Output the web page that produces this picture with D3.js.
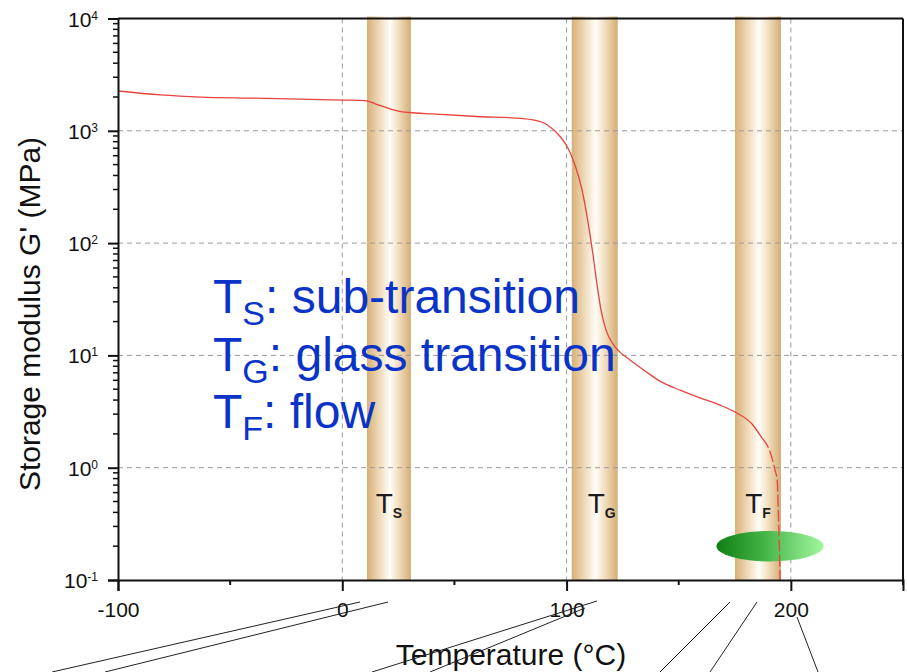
<!DOCTYPE html>
<html>
<head>
<meta charset="utf-8">
<script src="https://d3js.org/d3.v7.min.js"></script>
<style>
  body { margin: 0; background: #fff; }
  svg { display: block; font-family: "Liberation Sans", Arial, sans-serif; }
</style>
</head>
<body>
<svg id="chart" width="907" height="672"></svg>
<script>
// storage modulus curve (temperature in °C, G' in MPa)
const temps = [-100, -81, -63, -41, -19, 0, 10, 15, 20, 25, 30, 40, 60, 80, 85, 91.5, 97.3, 100.6,
  103.75, 106.9, 109.55, 111.8, 113.6, 115.35, 117.6, 120.7, 123.8, 128.3, 135, 141.6, 150.6, 159.5,
  168.4, 175.1, 182.7, 187.1, 191.6, 192.9, 193.9, 194.4, 195.2];
const modulus = [2262, 2085, 1995, 1955, 1916, 1878, 1860, 1730, 1600, 1500, 1455, 1413, 1341, 1288, 1251, 1128, 881, 703,
  496, 297, 154, 78.4, 42.4, 25.4, 16.8, 12.6, 10.7, 9.1, 7.26, 5.9, 4.9, 4.18,
  3.61, 3.13, 2.45, 1.84, 1.22, 0.955, 0.776, 0.42, 0.1];
const dashedFrom = 187.1;

// transition bands
const bandNames = ["S", "G", "F"];
const bandFrom = [11.0, 102.3, 175.1];
const bandTo = [30.6, 122.8, 195.6];

// legend lines
const legendSubs = ["S", "G", "F"];
const legendTexts = [": sub-transition", ": glass transition", ": flow"];

// axis ticks
const xMajor = [-100, 0, 100, 200];
const xMinor = [-50, 50, 150, 250];
const yMajor = [1e-1, 1e0, 1e1, 1e2, 1e3, 1e4];
const yExp = ["-1", "0", "1", "2", "3", "4"];
const xGrid = [0, 100, 200];
const yGrid = [1e0, 1e1, 1e2, 1e3];

// flow marker (ellipse)
const flowMarker = { t: 190.7, g: 0.2 };

// callout lines below the axis (pixel coords)
const callouts = [
  [360, 602, 52, 672], [388, 602, 105, 672],
  [597, 601, 372, 672], [585, 608, 430, 672],
  [730, 602, 660, 672], [757, 602, 710, 672],
  [797, 617, 818, 672]
];

const svg = d3.select("#chart");
const mLeft = 118, mRight = 903, mTop = 18.5, mBottom = 580;

const x = d3.scaleLinear().domain([-100, 250]).range([mLeft, mRight]);
const y = d3.scaleLog().domain([0.1, 1e4]).range([mBottom, mTop]);

const defs = svg.append("defs");
const bg = defs.append("linearGradient").attr("id", "band").attr("x1", 0).attr("x2", 1).attr("y1", 0).attr("y2", 0);
[["0%", "#d8b079"], ["18%", "#e7cba0"], ["52%", "#fffdf7"], ["70%", "#f3e2c6"], ["100%", "#d5ad74"]]
  .forEach(s => bg.append("stop").attr("offset", s[0]).attr("stop-color", s[1]));
const gg = defs.append("linearGradient").attr("id", "green").attr("x1", 0).attr("x2", 1).attr("y1", 0).attr("y2", 0);
[["0%", "#0f7f14"], ["45%", "#45b548"], ["100%", "#a2f79e"]]
  .forEach(s => gg.append("stop").attr("offset", s[0]).attr("stop-color", s[1]));

// bands
svg.selectAll("rect.band")
  .data(bandNames)
  .enter()
  .append("rect")
  .attr("class", "band")
  .attr("x", (d, i) => x(bandFrom[i]))
  .attr("y", mTop - 2)
  .attr("width", (d, i) => x(bandTo[i]) - x(bandFrom[i]))
  .attr("height", mBottom - mTop + 2)
  .attr("fill", "url(#band)");

// grid
svg.selectAll("line.xgrid")
  .data(xGrid)
  .enter()
  .append("line")
  .attr("x1", d => x(d)).attr("x2", d => x(d))
  .attr("y1", mTop).attr("y2", mBottom)
  .attr("stroke", "#9a9a9a").attr("stroke-width", 1).attr("stroke-dasharray", "5,4");

svg.selectAll("line.ygrid")
  .data(yGrid)
  .enter()
  .append("line")
  .attr("x1", mLeft).attr("x2", mRight)
  .attr("y1", d => y(d)).attr("y2", d => y(d))
  .attr("stroke", "#9a9a9a").attr("stroke-width", 1).attr("stroke-dasharray", "5,4");

// band labels
const bl = svg.selectAll("text.blabel")
  .data(bandNames)
  .enter()
  .append("text")
  .attr("x", (d, i) => (x(bandFrom[i]) + x(bandTo[i])) / 2 + (d === "G" ? 7 : 0))
  .attr("y", 513)
  .attr("text-anchor", "middle")
  .attr("fill", "#1c1c1c");
bl.append("tspan").text("T").style("font-size", "28px");
bl.append("tspan").text(d => d).attr("dy", 5).style("font-size", "14px").style("font-weight", "bold");

// green ellipse
svg.append("ellipse")
  .attr("cx", x(flowMarker.t))
  .attr("cy", y(flowMarker.g))
  .attr("rx", 53.5)
  .attr("ry", 15.3)
  .attr("fill", "url(#green)");

// curve
const pts = temps.map((t, i) => [t, modulus[i]]);
const line = d3.line().x(d => x(d[0])).y(d => y(d[1])).curve(d3.curveMonotoneX);
svg.append("path")
  .datum(pts.filter(d => d[0] <= dashedFrom))
  .attr("d", line)
  .attr("fill", "none").attr("stroke", "#e8433d").attr("stroke-width", 1.3);
svg.append("path")
  .datum(pts.filter(d => d[0] >= dashedFrom))
  .attr("d", line)
  .attr("fill", "none").attr("stroke", "#e8433d").attr("stroke-width", 1.3)
  .attr("stroke-dasharray", "12,3");

// frame
svg.append("line").attr("x1", mLeft).attr("x2", mRight).attr("y1", mTop).attr("y2", mTop)
  .attr("stroke", "#111").attr("stroke-width", 2);
svg.append("line").attr("x1", mRight).attr("x2", mRight).attr("y1", mTop).attr("y2", mBottom)
  .attr("stroke", "#111").attr("stroke-width", 2);

// x axis
const xAxis = svg.append("g").attr("transform", `translate(0,${mBottom})`)
  .call(d3.axisBottom(x).tickValues(xMajor).tickSize(11).tickFormat(d => String(d)));
xAxis.select(".domain").attr("stroke", "#111").attr("stroke-width", 2);
xAxis.selectAll(".tick line").attr("stroke", "#111").attr("stroke-width", 2);
xAxis.selectAll(".tick text").attr("y", 0).attr("dy", "37px")
  .style("font-size", "21px").style("font-family", "'Liberation Sans', Arial, sans-serif").attr("fill", "#111");
xAxis.selectAll("line.minor")
  .data(xMinor)
  .enter()
  .append("line")
  .attr("x1", d => x(d)).attr("x2", d => x(d))
  .attr("y1", 0).attr("y2", 5)
  .attr("stroke", "#111").attr("stroke-width", 2);

// y axis
const yMinor = [];
yMajor.slice(0, -1).forEach(v => { for (let k = 2; k <= 9; k++) yMinor.push(v * k); });
const yAxis = svg.append("g").attr("transform", `translate(${mLeft},0)`)
  .call(d3.axisLeft(y).tickValues(yMajor).tickSize(10).tickFormat(""));
yAxis.select(".domain").attr("stroke", "#111").attr("stroke-width", 2);
yAxis.selectAll(".tick line").attr("stroke", "#111").attr("stroke-width", 2);
yAxis.selectAll("line.minor")
  .data(yMinor)
  .enter()
  .append("line")
  .attr("x1", -5).attr("x2", 0)
  .attr("y1", d => y(d)).attr("y2", d => y(d))
  .attr("stroke", "#111").attr("stroke-width", 1.5);

const yl = svg.selectAll("text.ylabel")
  .data(yMajor)
  .enter()
  .append("text")
  .attr("x", 98)
  .attr("y", d => y(d) + 8)
  .attr("text-anchor", "end")
  .attr("fill", "#111");
yl.append("tspan").text("10").style("font-size", "21px");
yl.append("tspan").text((d, i) => yExp[i]).attr("dy", -7).style("font-size", "12px");

// axis titles
svg.append("text")
  .attr("x", 511).attr("y", 665)
  .attr("text-anchor", "middle")
  .style("font-size", "30px").attr("fill", "#111")
  .text("Temperature (°C)");
svg.append("text")
  .attr("transform", "translate(40,314) rotate(-90)")
  .attr("text-anchor", "middle")
  .style("font-size", "30px").attr("fill", "#111")
  .text("Storage modulus G' (MPa)");

// legend text
const lg = svg.selectAll("text.legend")
  .data(legendSubs)
  .enter()
  .append("text")
  .attr("x", 213)
  .attr("y", (d, i) => 313 + i * 57.5)
  .attr("fill", "#0a34c8");
lg.append("tspan").text("T").style("font-size", "48px");
lg.append("tspan").text(d => d).attr("dy", 12).style("font-size", "34px");
lg.append("tspan").text((d, i) => legendTexts[i]).attr("dy", -12).style("font-size", "48px");

// callout lines
svg.selectAll("line.callout")
  .data(callouts)
  .enter()
  .append("line")
  .attr("x1", d => d[0]).attr("y1", d => d[1])
  .attr("x2", d => d[2]).attr("y2", d => d[3])
  .attr("stroke", "#222").attr("stroke-width", 1);
</script>
</body>
</html>
